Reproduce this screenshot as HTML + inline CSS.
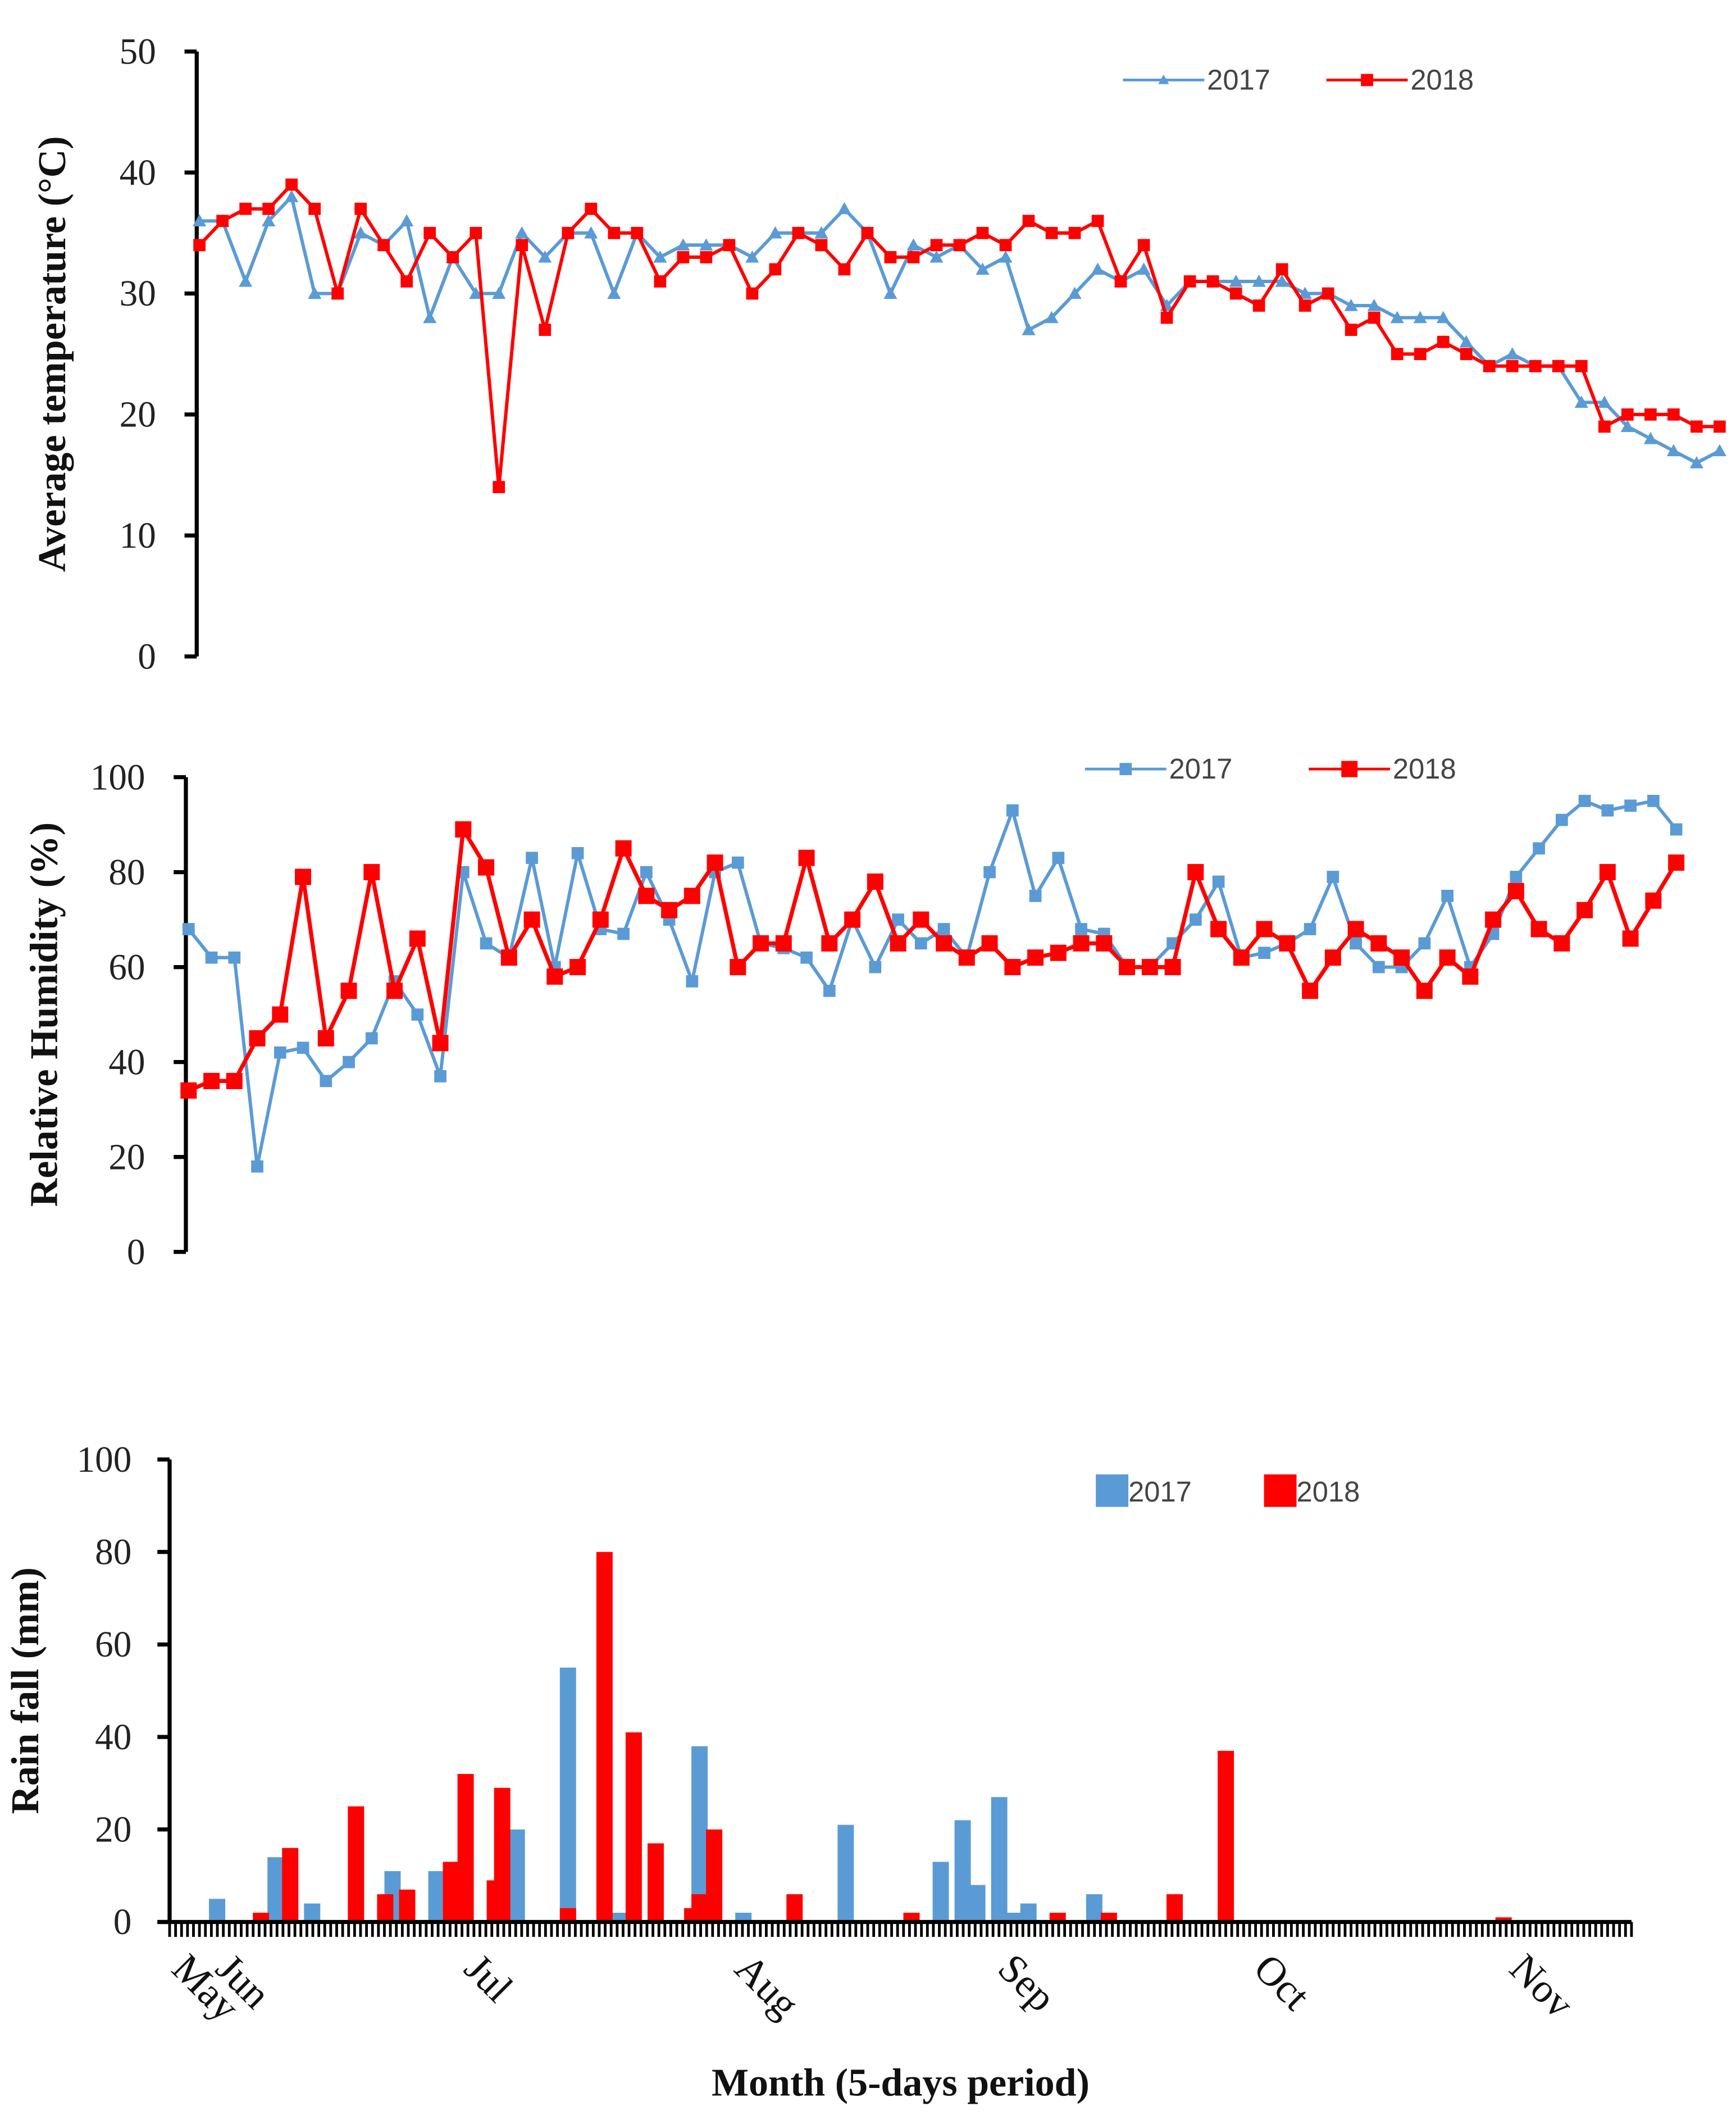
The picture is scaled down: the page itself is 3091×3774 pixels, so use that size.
<!DOCTYPE html>
<html><head><meta charset="utf-8"><style>
html,body{margin:0;padding:0;background:#fff}
svg{display:block}
.ax{font-family:"Liberation Serif",serif;font-size:27px;fill:#222}
.mx{font-family:"Liberation Serif",serif;font-size:30px;fill:#111}
.tt{font-family:"Liberation Serif",serif;font-size:29px;font-weight:bold;fill:#111}
.lg{font-family:"Liberation Sans",sans-serif;font-size:21px;fill:#444}
</style></head><body>
<svg id="chart" width="3091" height="3774" viewBox="0 0 1280 1563" xmlns="http://www.w3.org/2000/svg">
<g id="g1"></g>
<g id="g2"></g>
<g id="g3"></g>
</svg>
<script>
const temp2017=[36,36,31,36,38,30,30,35,34,36,28,33,30,30,35,33,35,35,30,35,33,34,34,34,33,35,35,35,37,35,30,34,33,34,32,33,27,28,30,32,31,32,29,31,31,31,31,31,30,30,29,29,28,28,28,26,24,25,24,24,21,21,19,18,17,16,17];
const temp2018=[34,36,37,37,39,37,30,37,34,31,35,33,35,14,34,27,35,37,35,35,31,33,33,34,30,32,35,34,32,35,33,33,34,34,35,34,36,35,35,36,31,34,28,31,31,30,29,32,29,30,27,28,25,25,26,25,24,24,24,24,24,19,20,20,20,19,19];
const rh2017=[68,62,62,18,42,43,36,40,45,57,50,37,80,65,62,83,60,84,68,67,80,70,57,80,82,65,64,62,55,70,60,70,65,68,62,80,93,75,83,68,67,60,60,65,70,78,62,63,65,68,79,65,60,60,65,75,60,67,79,85,91,95,93,94,95,89];
const rh2018=[34,36,36,45,50,79,45,55,80,55,66,44,89,81,62,70,58,60,70,85,75,72,75,82,60,65,65,83,65,70,78,65,70,65,62,65,60,62,63,65,65,60,60,60,80,68,62,68,65,55,62,68,65,62,55,62,58,70,76,68,65,72,80,66,74,82];
const tempTicks=[0,10,20,30,40,50];
const rhTicks=[0,20,40,60,80,100];
const rainTicks=[0,20,40,60,80,100];
const rainDays2017=[6,14,19,30,36,44,47,54,61,72,78,92,105,108,110,113,115,117,126];
const rain2017=[5,14,4,11,11,3,20,55,2,38,2,21,13,22,8,27,2,4,6];
const rainDays2018=[12,16,25,29,32,38,40,44,45,54,59,63,66,71,72,74,85,101,121,128,137,144,182];
const rain2018=[2,16,25,6,7,13,32,9,29,3,80,41,17,3,6,20,6,2,2,2,6,37,1];
const months=["May","Jun","Jul","Aug","Sep","Oct","Nov"];
const monthDays=[4,10,44,81,117,152,187];
const NS='http://www.w3.org/2000/svg';
function el(p,t,a,txt){const e=document.createElementNS(NS,t);for(const k in a)e.setAttribute(k,a[k]);if(txt!==undefined)e.textContent=txt;p.appendChild(e);return e;}
const BLUE='#5b9bd5',RED='#ff0000';

function linePanel(g,cfg){
  const y=v=>cfg.y0-(v-cfg.vmin)/(cfg.vmax-cfg.vmin)*(cfg.y0-cfg.y1);
  let a=el(g,'line',{x1:cfg.ax,y1:cfg.y1,x2:cfg.ax,y2:cfg.y0,stroke:'#000','stroke-width':3});
  
  cfg.ticks.forEach(t=>{
    const l=el(g,'line',{x1:cfg.ax-9,y1:y(t),x2:cfg.ax,y2:y(t),stroke:'#000','stroke-width':3});
    
    const tx=el(g,'text',{x:cfg.ax-30,y:y(t)+9,'text-anchor':'end',class:'ax'},t);
    
  });
  const t=el(g,'text',{class:'tt',transform:`translate(${cfg.tx},${(cfg.y0+cfg.y1)/2}) rotate(-90)`,'text-anchor':'middle'},cfg.title);
  
  cfg.series.forEach(s=>{
    const n=s.data.length;const x=i=>cfg.x0+i*(cfg.x1-cfg.x0)/(n-1);
    const pts=s.data.map((v,i)=>x(i).toFixed(1)+','+y(v).toFixed(1)).join(' ');
    const pl=el(g,'polyline',{points:pts,fill:'none',stroke:s.color,'stroke-width':s.w});
    
    s.data.forEach((v,i)=>{
      let m;
      if(s.tri) m=el(g,'polygon',{points:`${x(i)},${y(v)-5} ${x(i)-5},${y(v)+4} ${x(i)+5},${y(v)+4}`,fill:s.color});
      else m=el(g,'rect',{x:x(i)-s.ms/2,y:y(v)-s.ms/2,width:s.ms,height:s.ms,fill:s.color});
      
    });
    const lx=s.lx,ly=cfg.ly;
    const ll=el(g,'line',{x1:lx,y1:ly,x2:lx+60,y2:ly,stroke:s.color,'stroke-width':2});
    
    let lm;
    if(s.tri) lm=el(g,'polygon',{points:`${lx+30},${ly-4} ${lx+26},${ly+3} ${lx+34},${ly+3}`,fill:s.color});
    else lm=el(g,'rect',{x:lx+30-s.ms/2,y:ly-s.ms/2,width:s.ms,height:s.ms,fill:s.color});
    
    const lt=el(g,'text',{x:lx+62,y:ly+7,class:'lg'},s.name);
    
  });
}
linePanel(document.getElementById('g1'),{ax:145,y0:484,y1:38,vmin:0,vmax:50,x0:147,x1:1268,ticks:tempTicks,title:'Average temperature (°C)',tx:48,ly:59,
  series:[{name:'2017',data:temp2017,color:BLUE,w:2.5,tri:true,lx:828},{name:'2018',data:temp2018,color:RED,w:2.5,ms:9,lx:978}]});
linePanel(document.getElementById('g2'),{ax:137,y0:923,y1:573,vmin:0,vmax:100,x0:139,x1:1236,ticks:rhTicks,title:'Relative Humidity (%)',tx:42,ly:567,
  series:[{name:'2017',data:rh2017,color:BLUE,w:2.5,ms:9,lx:800},{name:'2018',data:rh2018,color:RED,w:3,ms:12,lx:965}]});

(function(){
  const g=document.getElementById('g3');
  const ax=125,x1=1203,y0=1417,y1=1076,ND=200,NT=245;
  const y=v=>y0-v/100*(y0-y1);
  const x=d=>ax+(d+0.5)*(x1-ax)/ND;
  rainTicks.forEach(t=>{
    const l=el(g,'line',{x1:ax-9,y1:y(t),x2:ax,y2:y(t),stroke:'#000','stroke-width':3});
    
    const tx=el(g,'text',{x:ax-28,y:y(t)+9,'text-anchor':'end',class:'ax'},t);
    
  });
  rain2017.forEach((v,i)=>{const r=el(g,'rect',{x:x(rainDays2017[i])-6,y:y(v),width:12,height:y0-y(v),fill:BLUE});
    });
  rain2018.forEach((v,i)=>{const r=el(g,'rect',{x:x(rainDays2018[i])-6,y:y(v),width:12,height:y0-y(v),fill:RED});
    });
  let a=el(g,'line',{x1:ax,y1:y1,x2:ax,y2:y0,stroke:'#000','stroke-width':3});
  
  a=el(g,'line',{x1:ax-9,y1:y0,x2:x1,y2:y0,stroke:'#000','stroke-width':3});
  
  for(let d=0;d<=NT;d++){const xx=ax+d*(x1-ax)/NT;
    const l=el(g,'line',{x1:xx,y1:y0,x2:xx,y2:y0+11,stroke:'#000','stroke-width':2});
    }
  months.forEach((m,i)=>{const xx=x(monthDays[i]);
    const t=el(g,'text',{class:'mx',transform:`translate(${xx-24},${y0+36}) rotate(45)`},m);
    });
  let t=el(g,'text',{class:'tt',x:664,y:1545,'text-anchor':'middle'},'Month (5-days period)');
  
  t=el(g,'text',{class:'tt',transform:`translate(28,${(y0+y1)/2}) rotate(-90)`,'text-anchor':'middle'},'Rain fall (mm)');
  
  [[808,BLUE,'2017'],[932,RED,'2018']].forEach(([lx,c,n])=>{
    const r=el(g,'rect',{x:lx,y:1087,width:24,height:24,fill:c});
    
    const tt=el(g,'text',{x:lx+24,y:1107,class:'lg'},n);
    
  });
})();
</script>
</body></html>
